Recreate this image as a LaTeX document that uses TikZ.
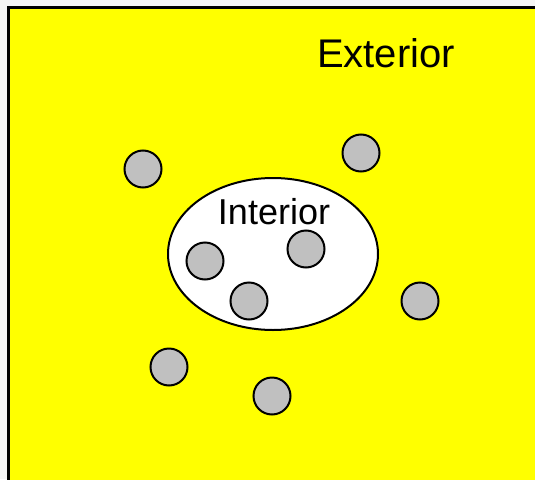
\documentclass[tikz,border=0pt]{standalone}
\usepackage{fontspec}
\setmainfont{Liberation Sans}
\definecolor{geel}{RGB}{255,255,0}
\definecolor{grijs}{RGB}{192,192,192}
\begin{document}
\begin{tikzpicture}[x=1pt, y=-1pt,
    deeltje/.style={circle, draw=black, line width=2pt, fill=grijs, minimum size=37pt, inner sep=0pt}]

  % Achtergrond
  \useasboundingbox (0,0) rectangle (535,479);
  \clip (0,0) rectangle (535,479);
  \fill[black!4] (0,0) rectangle (535,479);

  % Buitengebied
  \filldraw[fill=geel, draw=black, line width=3pt] (8,7) rectangle (600,540);
  \node (ext) at (386,53) {\fontsize{40}{44}\selectfont Exterior};

  % Binnengebied
  \filldraw[fill=white, draw=black, line width=2pt] (273,254) ellipse (105 and 76);
  \node (int) at (274,212) {\fontsize{36}{40}\selectfont Interior};

  % Deeltjes binnen
  \node[deeltje] (b1) at (205,261) {};
  \node[deeltje] (b2) at (306,249) {};
  \node[deeltje] (b3) at (249,301) {};

  % Deeltjes buiten
  \node[deeltje] (u1) at (143,169) {};
  \node[deeltje] (u2) at (361,153) {};
  \node[deeltje] (u3) at (420,301) {};
  \node[deeltje] (u4) at (169,367) {};
  \node[deeltje] (u5) at (272,396) {};

\end{tikzpicture}
\end{document}
